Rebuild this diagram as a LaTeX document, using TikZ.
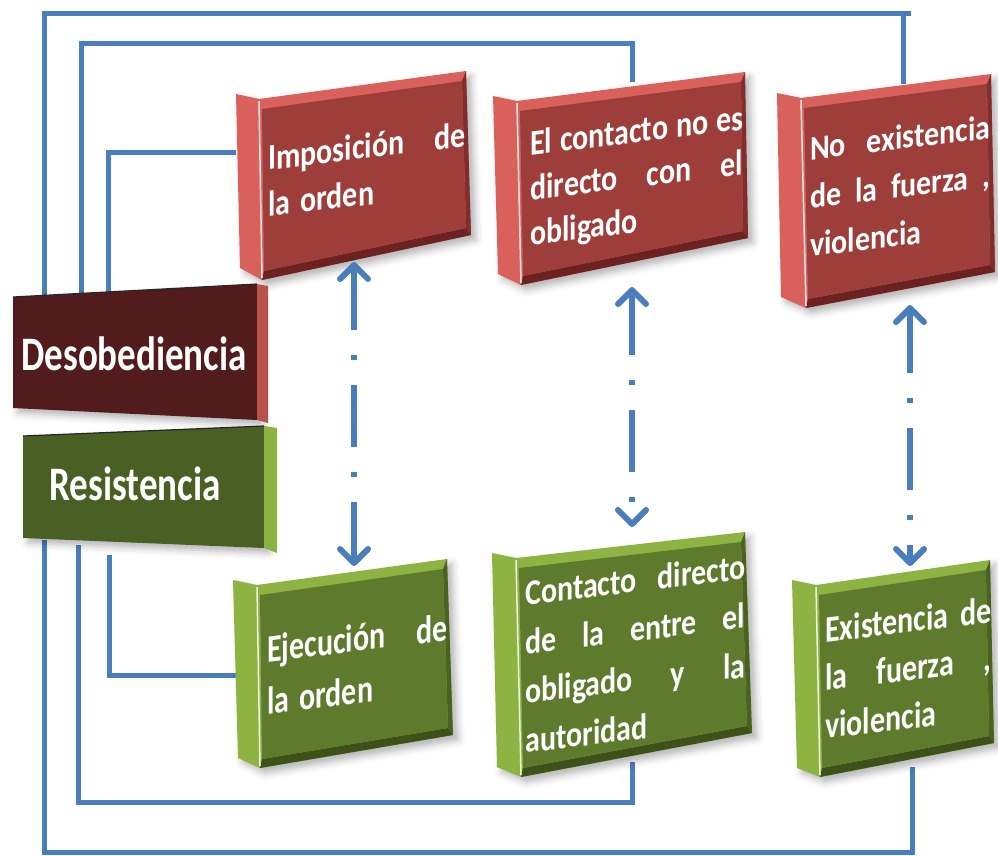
\documentclass[tikz,border=0pt]{standalone}
\usepackage{fontspec}
\setmainfont{Carlito}
\usetikzlibrary{arrows.meta,calc,shadows.blur}
\definecolor{lnblue}{HTML}{4A7EBB}
\definecolor{redlight}{HTML}{D9605B}
\definecolor{redface}{HTML}{9E3E3B}
\definecolor{reddark}{HTML}{6B2220}
\definecolor{grnlight}{HTML}{8DB443}
\definecolor{grnface}{HTML}{5E7A2D}
\definecolor{grndark}{HTML}{3E5119}
\definecolor{desface}{HTML}{521C1C}
\definecolor{resface}{HTML}{4A5F24}
\tikzset{
  conn/.style={draw=lnblue, line width=5pt},
  barbtip/.tip={Straight Barb[length=14pt,width=28pt,line width=6pt,round]},
  duo/.style={draw=lnblue, line width=6pt, dash pattern=on 62pt off 25pt on 5pt off 25pt, barbtip-barbtip},
  boxtext/.style={text=white, inner sep=0pt, anchor=north west, align=left, yslant=0.12},
  bigtext/.style={text=white, font=\fontsize{37}{44}\selectfont\bfseries, inner sep=0pt, anchor=base, yscale=1.3},
  slabshadow/.style={blur shadow={shadow xshift=5pt, shadow yshift=-5pt, shadow blur radius=7pt, shadow opacity=30}}
}
\newcommand{\slabdraw}[4]{%
  \fill[#2, slabshadow] (#1s1) -- (#1f1) -- (#1f2) -- (#1f3) -- (#1f4) -- (#1s4) -- cycle;
  \fill[#4] ($(#1f4)+(2,-9)$) -- ($(#1f3)+(-5,-7)$) -- (#1f3) -- (#1f4) -- cycle;
  \fill[#4!60!#3] ($(#1f3)+(-5,-7)$) -- ($(#1f2)+(-4,10)$) -- (#1f2) -- (#1f3) -- cycle;
  \fill[#3] ($(#1f1)+(3,10)$) -- ($(#1f2)+(-4,10)$) -- ($(#1f3)+(-5,-7)$) -- ($(#1f4)+(2,-9)$) -- cycle;
  \draw[white!85!#2, line width=1.5pt] ($(#1f1)+(0,2)$) -- ($(#1f4)+(0,-2)$);
}
\begin{document}
\begin{tikzpicture}[x=1pt, y=-1pt]
\useasboundingbox (0,0) rectangle (998,855);
% box corner coordinates
\coordinate (As1) at (236,94);  \coordinate (Af1) at (259,99);  \coordinate (Af2) at (466,71);
\coordinate (Af3) at (471,235); \coordinate (Af4) at (262,280); \coordinate (As4) at (240,268);
\coordinate (Bs1) at (493,96);  \coordinate (Bf1) at (517,101); \coordinate (Bf2) at (745,72);
\coordinate (Bf3) at (748,238); \coordinate (Bf4) at (521,285); \coordinate (Bs4) at (498,274);
\coordinate (Cs1) at (777,93);  \coordinate (Cf1) at (801,98);  \coordinate (Cf2) at (991,74);
\coordinate (Cf3) at (995,272); \coordinate (Cf4) at (806,308); \coordinate (Cs4) at (781,297);
\coordinate (Ds1) at (233,580); \coordinate (Df1) at (257,585); \coordinate (Df2) at (447,559);
\coordinate (Df3) at (453,735); \coordinate (Df4) at (260,768); \coordinate (Ds4) at (238,758);
\coordinate (Es1) at (492,553); \coordinate (Ef1) at (516,558); \coordinate (Ef2) at (745,532);
\coordinate (Ef3) at (752,733); \coordinate (Ef4) at (521,777); \coordinate (Es4) at (497,767);
\coordinate (Fs1) at (792,580); \coordinate (Ff1) at (816,585); \coordinate (Ff2) at (990,560);
\coordinate (Ff3) at (994,743); \coordinate (Ff4) at (820,777); \coordinate (Fs4) at (797,768);
% connector attach points
\coordinate (dA) at (44,296); \coordinate (dB) at (81,294); \coordinate (dC) at (108,292);
\coordinate (rA) at (44,540); \coordinate (rB) at (78,545); \coordinate (rC) at (109,555);
\coordinate (b1w) at (236,152); \coordinate (b2n) at (632,82); \coordinate (b3n) at (903,84);
\coordinate (b4w) at (236,675); \coordinate (b5s) at (632,762); \coordinate (b6s) at (912,767);
\coordinate (a1t) at (354,262); \coordinate (a1b) at (354,566);
\coordinate (a2t) at (632,287); \coordinate (a2b) at (632,527);
\coordinate (a3t) at (910,305); \coordinate (a3b) at (910,566);
% connectors
\draw[conn] (dA) -- ++(0,-283) -| (b3n);
\draw[conn] (b3n |- 0,13) -- ++(8,0);
\draw[conn] (dB) -- ++(0,-251) -| (b2n);
\draw[conn] (dC) |- (b1w);
\draw[conn] (rA) -- ++(0,312) -| (b6s);
\draw[conn] (rB) -- ++(0,257) -| (b5s);
\draw[conn] (rC) |- (b4w);
% slabs
\slabdraw{A}{redlight}{redface}{reddark}
\slabdraw{B}{redlight}{redface}{reddark}
\slabdraw{C}{redlight}{redface}{reddark}
\slabdraw{D}{grnlight}{grnface}{grndark}
\slabdraw{E}{grnlight}{grnface}{grndark}
\slabdraw{F}{grnlight}{grnface}{grndark}
% left boxes
\fill[desface, slabshadow] (13,297) -- (257,284) -- (257,420) -- (13,408) -- cycle;
\fill[redlight!85!black] (257,284) -- (268,286) -- (268,423) -- (257,420) -- cycle;
\draw[black!85, line width=1.2pt] (13,297) -- (257,284);
\fill[resface, slabshadow] (23,436) -- (264,426) -- (264,548) -- (23,538) -- cycle;
\fill[grnlight] (264,426) -- (277,428) -- (277,553) -- (264,548) -- cycle;
\draw[black!85, line width=1.2pt] (23,436) -- (264,426);
\node[bigtext] (des) at (134,370) {Desobediencia};
\node[bigtext] (res) at (135,500) {Resistencia};
% box texts
\node[boxtext, text width=197pt, yscale=1.2, font=\fontsize{30}{39}\selectfont\bfseries] (t1) at (268,137)
  {\strut Imposición\hfill de\\la orden};
\node[boxtext, text width=213pt, yscale=1.2, font=\fontsize{30}{37.5}\selectfont\bfseries] (t2) at (530,123.5)
  {\strut El\hfill contacto\hfill no\hfill es\\directo\hfill con\hfill el\\obligado};
\node[boxtext, text width=180pt, yscale=1.15, font=\fontsize{30}{42}\selectfont\bfseries] (t3) at (810,126)
  {\strut No\hfill existencia\\de\hfill la\hfill fuerza\hfill ,\\violencia};
\node[boxtext, text width=180pt, yscale=1.3, font=\fontsize{30}{40.5}\selectfont\bfseries] (t4) at (267,625)
  {\strut Ejecución\hfill de\\la orden};
\node[boxtext, text width=220pt, yscale=1.2, font=\fontsize{30}{41}\selectfont\bfseries] (t5) at (525,570.6)
  {\strut Contacto\hfill directo\\de\hfill la\hfill entre\hfill el\\obligado\hfill y\hfill la\\autoridad};
\node[boxtext, text width=166pt, yscale=1.25, font=\fontsize{30}{38.5}\selectfont\bfseries] (t6) at (825,608.5)
  {\strut Existencia\hfill de\\la\hfill fuerza\hfill ,\\violencia};
% dash-dot double arrows
\draw[duo] (a1t) -- (a1b);
\draw[duo] (a2t) -- (a2b);
\draw[duo] (a3t) -- (a3b);
\end{tikzpicture}
\end{document}
